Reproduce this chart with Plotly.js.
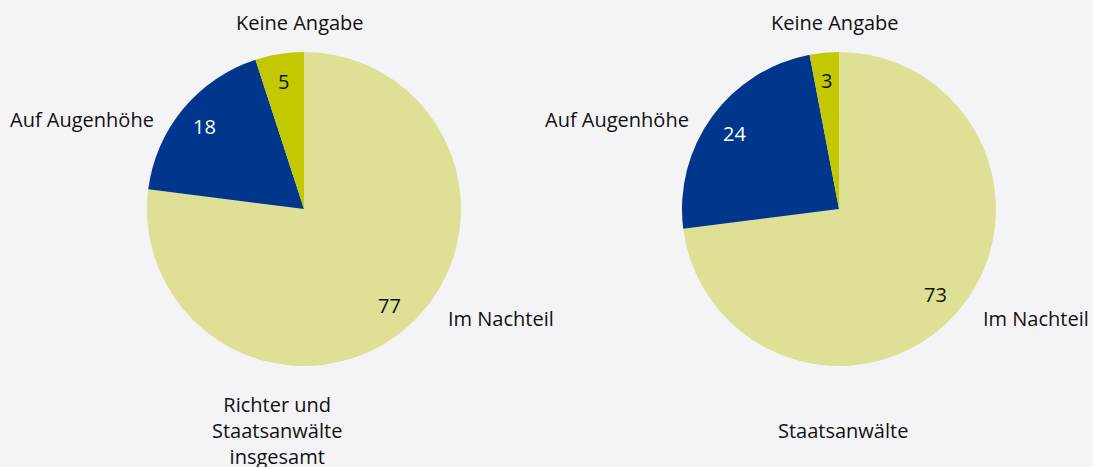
<!DOCTYPE html>
<html><head><meta charset="utf-8">
<script src="https://cdn.plot.ly/plotly-3.0.1.min.js"></script>
<style>html,body{margin:0;padding:0;background:#f4f4f7;}</style>
</head><body>
<div id="chart" style="width:1093px;height:467px;"></div>
<script>
const categories = ["Im Nachteil", "Auf Augenhöhe", "Keine Angabe"];
const valuesGesamt = [77, 18, 5];
const valuesStaatsanwaelte = [73, 24, 3];
const pieTitles = ["Richter und<br>Staatsanwälte<br>insgesamt", "Staatsanwälte"];
const colors = ["#dee096", "#00378c", "#c3c800"];
const textColors = ["#111111", "#ffffff", "#111111"];

const W = 1093, H = 467;
const font = "Open Sans, Noto Sans, sans-serif";
const FS = 20;
function dom(x0, x1, yTop, yBot) {
  return {x: [x0 / W, x1 / W], y: [1 - yBot / H, 1 - yTop / H]};
}
function pie(vals, d) {
  return {
    type: "pie", values: vals, labels: categories, sort: false, direction: "clockwise",
    rotation: 0, marker: {colors: colors, line: {width: 0}},
    textinfo: "none", hoverinfo: "label+value", domain: d, showlegend: false
  };
}
// value labels placed along each slice's mid-angle, derived from the data
function valueLabels(vals, d) {
  const x0 = d.x[0] * W, x1 = d.x[1] * W;
  const yTop = (1 - d.y[1]) * H, yBot = (1 - d.y[0]) * H;
  const cx = (x0 + x1) / 2, cy = (yTop + yBot) / 2, r = (x1 - x0) / 2;
  const total = vals.reduce((a, b) => a + b, 0);
  let cum = 0;
  return vals.map((v, i) => {
    const mid = (cum + v / 2) / total * 2 * Math.PI; cum += v;
    const rr = r * 0.82;
    const px = cx + rr * Math.sin(mid), py = cy - rr * Math.cos(mid);
    return {text: String(v), x: px / W, y: 1 - py / H, xref: "paper", yref: "paper",
      xanchor: "center", yanchor: "middle", showarrow: false,
      font: {family: font, size: FS, color: textColors[i]}};
  });
}
const d1 = dom(147, 461, 52, 366);
const d2 = dom(682, 996, 52, 366);
const lab = (text, x, y, xanchor) => ({text, x: x / W, y: 1 - y / H, xref: "paper", yref: "paper",
  xanchor: xanchor || "center", yanchor: "middle", showarrow: false, font: {family: font, size: FS, color: "#111"}});
const annotations = [
  lab(categories[2], 300, 22), lab(categories[1], 156, 120, "right"), lab(categories[0], 446, 318, "left"),
  lab(categories[2], 835, 22), lab(categories[1], 691, 120, "right"), lab(categories[0], 981, 318, "left"),
  Object.assign(lab(pieTitles[0], 277, 430), {align: "center"}),
  lab(pieTitles[1], 843, 430)
].concat(valueLabels(valuesGesamt, d1), valueLabels(valuesStaatsanwaelte, d2));
Plotly.newPlot("chart", [pie(valuesGesamt, d1), pie(valuesStaatsanwaelte, d2)], {
  width: W, height: H, margin: {l: 0, r: 0, t: 0, b: 0},
  paper_bgcolor: "#f4f4f7", plot_bgcolor: "#f4f4f7", annotations: annotations
}, {displayModeBar: false, staticPlot: true});
</script>
</body></html>
